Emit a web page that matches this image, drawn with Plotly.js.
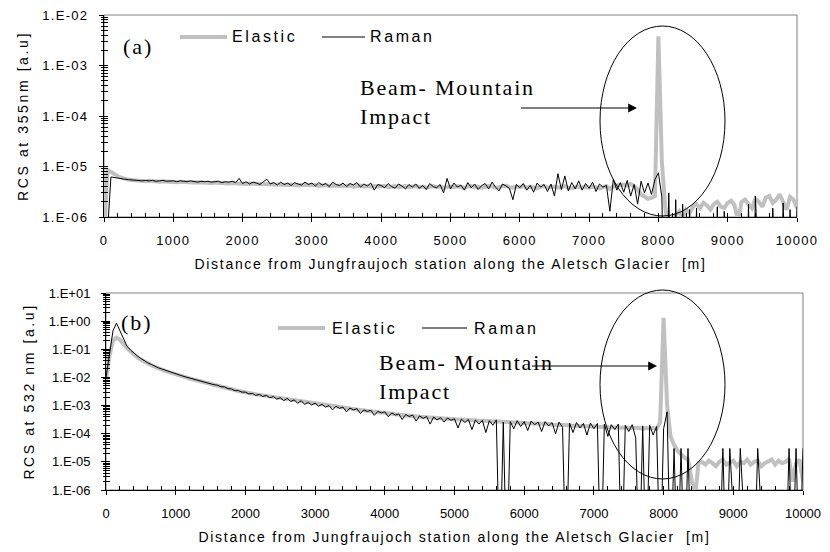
<!DOCTYPE html>
<html>
<head>
<meta charset="utf-8">
<script src="https://cdn.plot.ly/plotly-3.0.1.min.js"></script>
<style>
  html, body { margin: 0; padding: 0; background: #fff; }
  #chart { width: 830px; height: 552px; }
  g.xtick text, g.ytick text { letter-spacing: 1.3px; }
  text.xtitle, text.x2title { letter-spacing: 1.7px; }
  text.ytitle, text.y2title { letter-spacing: 2.6px; }
</style>
</head>
<body>
<div id="chart"></div>
<script>
// ---------------- DATA ----------------
const distance = [
  0,50,100,150,200,250,300,350,400,450,
  500,550,600,650,700,750,800,850,900,950,
  1000,1050,1100,1150,1200,1250,1300,1350,1400,1450,
  1500,1550,1600,1650,1700,1750,1800,1850,1900,1950,
  2000,2050,2100,2150,2200,2250,2300,2350,2400,2450,
  2500,2550,2600,2650,2700,2750,2800,2850,2900,2950,
  3000,3050,3100,3150,3200,3250,3300,3350,3400,3450,
  3500,3550,3600,3650,3700,3750,3800,3850,3900,3950,
  4000,4050,4100,4150,4200,4250,4300,4350,4400,4450,
  4500,4550,4600,4650,4700,4750,4800,4850,4900,4950,
  5000,5050,5100,5150,5200,5250,5300,5350,5400,5450,
  5500,5550,5600,5650,5700,5750,5800,5850,5900,5950,
  6000,6050,6100,6150,6200,6250,6300,6350,6400,6450,
  6500,6550,6600,6650,6700,6750,6800,6850,6900,6950,
  7000,7050,7100,7150,7200,7250,7300,7350,7400,7450,
  7500,7550,7600,7650,7700,7750,7800,7850,7900,7950,
  8000,8050,8100,8150,8200,8250,8300,8350,8400,8450,
  8500,8550,8600,8650,8700,8750,8800,8850,8900,8950,
  9000,9050,9100,9150,9200,9250,9300,9350,9400,9450,
  9500,9550,9600,9650,9700,9750,9800,9850,9900,9950,
  10000
];

// (a) RCS at 355 nm - Elastic
const rcs355Elastic = [
  4e-7,8.5e-6,7.8e-6,7.0e-6,6.4e-6,6.0e-6,5.7e-6,5.5e-6,5.4e-6,5.3e-6,
  5.2e-6,5.2e-6,5.1e-6,5.2e-6,5.1e-6,5.1e-6,5.0e-6,5.1e-6,5.0e-6,5.0e-6,
  5.0e-6,4.9e-6,5.0e-6,4.9e-6,4.9e-6,4.9e-6,4.8e-6,4.9e-6,4.8e-6,4.8e-6,
  4.8e-6,4.7e-6,4.8e-6,4.7e-6,4.7e-6,4.7e-6,4.6e-6,4.7e-6,4.6e-6,4.6e-6,
  4.6e-6,4.5e-6,4.6e-6,4.5e-6,4.4e-6,4.5e-6,4.5e-6,4.4e-6,4.5e-6,4.4e-6,
  4.4e-6,4.3e-6,4.4e-6,4.3e-6,4.4e-6,4.3e-6,4.2e-6,4.3e-6,4.3e-6,4.2e-6,
  4.2e-6,4.3e-6,4.1e-6,4.2e-6,4.3e-6,4.1e-6,4.2e-6,4.1e-6,4.2e-6,4.1e-6,
  4.1e-6,4.2e-6,4.0e-6,4.1e-6,4.2e-6,4.0e-6,4.1e-6,4.0e-6,4.1e-6,4.0e-6,
  4.0e-6,4.1e-6,3.9e-6,4.0e-6,4.1e-6,3.9e-6,4.0e-6,4.1e-6,3.9e-6,4.0e-6,
  4.1e-6,3.9e-6,4.0e-6,3.8e-6,4.0e-6,4.1e-6,3.9e-6,4.0e-6,3.8e-6,3.9e-6,
  4.0e-6,3.9e-6,4.1e-6,3.9e-6,3.8e-6,4.0e-6,4.1e-6,3.9e-6,4.0e-6,3.8e-6,
  3.9e-6,4.1e-6,4.0e-6,3.8e-6,3.9e-6,4.0e-6,4.2e-6,3.9e-6,3.8e-6,4.0e-6,
  3.9e-6,4.1e-6,3.8e-6,4.0e-6,3.9e-6,3.7e-6,4.0e-6,4.1e-6,3.8e-6,3.9e-6,
  4.0e-6,3.8e-6,3.9e-6,4.1e-6,3.8e-6,3.7e-6,3.9e-6,4.0e-6,3.8e-6,3.9e-6,
  3.8e-6,4.0e-6,3.9e-6,3.7e-6,3.9e-6,4.1e-6,3.6e-6,4.0e-6,4.2e-6,4.3e-6,
  4.4e-6,4.2e-6,4.5e-6,4.1e-6,3.5e-6,2.8e-6,2.5e-6,2.3e-6,2.4e-6,2.6e-6,
  3.8e-3,1.2e-5,1.5e-6,5e-7,8e-7,1.1e-6,1.3e-6,9e-7,1.4e-6,1.2e-6,
  1.6e-6,1.8e-6,1.5e-6,1.9e-6,1.7e-6,1.4e-6,1.8e-6,2.0e-6,1.6e-6,1.5e-6,
  1.9e-6,2.1e-6,1.7e-6,8e-7,2.0e-6,2.2e-6,1.8e-6,1.5e-6,2.3e-6,2.0e-6,
  1.6e-6,2.4e-6,2.6e-6,1.9e-6,2.2e-6,2.8e-6,2.0e-6,1.4e-6,2.5e-6,2.2e-6,
  1.5e-6
];

// (a) RCS at 355 nm - Raman
const rcs355Raman = [
  1e-9,5e-7,6.2e-6,6.0e-6,5.8e-6,5.7e-6,5.6e-6,5.5e-6,5.4e-6,5.3e-6,
  5.3e-6,5.2e-6,5.3e-6,5.2e-6,5.3e-6,5.1e-6,5.2e-6,5.3e-6,5.1e-6,5.2e-6,
  5.2e-6,5.0e-6,5.2e-6,5.1e-6,5.0e-6,5.2e-6,5.1e-6,4.9e-6,5.1e-6,5.0e-6,
  5.1e-6,4.9e-6,5.0e-6,5.1e-6,4.8e-6,5.0e-6,4.9e-6,5.1e-6,4.8e-6,5.8e-6,
  4.6e-6,5.0e-6,4.5e-6,4.9e-6,4.7e-6,4.4e-6,5.0e-6,5.6e-6,4.5e-6,4.8e-6,
  4.3e-6,4.9e-6,4.4e-6,4.7e-6,4.2e-6,4.8e-6,4.5e-6,4.3e-6,4.9e-6,4.4e-6,
  4.7e-6,4.1e-6,4.8e-6,4.3e-6,4.6e-6,4.0e-6,4.9e-6,4.4e-6,4.2e-6,4.7e-6,
  4.0e-6,4.6e-6,4.3e-6,4.8e-6,3.9e-6,4.5e-6,4.1e-6,4.7e-6,3.4e-6,4.4e-6,
  4.2e-6,3.8e-6,4.6e-6,4.0e-6,3.7e-6,4.5e-6,4.1e-6,3.6e-6,4.4e-6,3.9e-6,
  4.5e-6,3.7e-6,4.2e-6,3.5e-6,4.6e-6,4.0e-6,3.8e-6,4.4e-6,3.0e-6,5.8e-6,
  3.6e-6,4.7e-6,3.9e-6,4.3e-6,3.4e-6,4.8e-6,3.8e-6,4.5e-6,3.5e-6,4.2e-6,
  4.6e-6,3.6e-6,4.9e-6,3.9e-6,3.3e-6,4.5e-6,4.1e-6,3.7e-6,2.2e-6,4.4e-6,
  3.8e-6,4.6e-6,3.4e-6,4.2e-6,3.1e-6,4.7e-6,3.9e-6,4.4e-6,3.2e-6,4.5e-6,
  2.6e-6,7.2e-6,3.5e-6,6.5e-6,3.3e-6,4.8e-6,3.6e-6,5.2e-6,3.4e-6,4.6e-6,
  3.7e-6,4.9e-6,3.2e-6,4.5e-6,3.9e-6,4.2e-6,1.3e-6,5.6e-6,3.4e-6,4.8e-6,
  3.1e-6,5.3e-6,2.6e-6,4.4e-6,1.8e-6,5.1e-6,3.0e-6,4.7e-6,2.8e-6,5.5e-6,
  7.5e-6,2.5e-6,1e-9,3.0e-6,1e-9,2.2e-6,1e-9,1.8e-6,1e-9,1.4e-6,
  1e-9,1.5e-6,1e-9,1e-9,1e-9,1e-9,1e-9,1.6e-6,1e-9,1.3e-6,
  1e-9,1e-9,1e-9,1e-9,1e-9,1e-9,1.8e-6,1e-9,2.6e-6,1e-9,
  1e-9,1e-9,1e-9,1.5e-6,1e-9,1e-9,1.9e-6,1e-9,1.4e-6,1e-9,
  1.6e-6
];

// (b) RCS at 532 nm - Elastic
const rcs532Elastic = [
  8e-3,0.06,0.2,0.26,0.22,0.15,0.11,0.085,0.065,0.052,
  0.043,0.036,0.030,0.027,0.024,0.021,0.019,0.017,0.0155,0.014,
  0.0128,0.0118,0.0108,0.0100,0.0092,0.0085,0.0079,0.0073,0.0068,0.0064,
  0.0060,0.0056,0.0052,0.0048,0.0045,0.0041,0.0038,0.0035,0.0033,0.0031,
  0.0029,0.0028,0.0026,0.0025,0.0024,0.0023,0.0022,0.0021,0.0020,0.0019,
  0.0018,0.0017,0.00165,0.0016,0.0015,0.00145,0.0014,0.00133,0.00127,0.00122,
  0.00117,0.00112,0.00107,0.00102,0.00098,0.00094,0.0009,0.00087,0.00084,0.00081,
  0.00078,0.00075,0.00072,0.0007,0.00067,0.00065,0.00063,0.00061,0.00059,0.00057,
  0.00055,0.00053,0.00051,0.00049,0.00047,0.00046,0.00045,0.00043,0.00042,0.00041,
  0.0004,0.00039,0.00038,0.00037,0.00036,0.00036,0.00035,0.00034,0.00034,0.00033,
  3.3e-4,3.2e-4,3.2e-4,3.1e-4,3.1e-4,3.0e-4,3.0e-4,2.9e-4,2.9e-4,2.8e-4,
  2.8e-4,2.8e-4,2.7e-4,2.7e-4,2.6e-4,2.6e-4,2.6e-4,2.5e-4,2.5e-4,2.4e-4,
  2.4e-4,2.4e-4,2.3e-4,2.3e-4,2.3e-4,2.2e-4,2.2e-4,2.2e-4,2.1e-4,2.1e-4,
  2.1e-4,2.0e-4,2.0e-4,2.0e-4,1.9e-4,1.9e-4,1.9e-4,1.9e-4,1.8e-4,1.8e-4,
  1.8e-4,1.8e-4,1.7e-4,1.8e-4,1.7e-4,1.7e-4,1.7e-4,1.6e-4,1.7e-4,1.6e-4,
  1.6e-4,1.7e-4,1.6e-4,1.6e-4,1.5e-4,1.6e-4,1.5e-4,1.6e-4,1.5e-4,2.5e-4,
  1.3,1e-3,8e-5,4e-5,2.5e-5,1.8e-5,1.4e-5,1.2e-5,2e-6,5e-7,
  9e-6,1.0e-5,8e-6,1.1e-5,9e-6,7e-6,1.0e-5,1.2e-5,8e-6,9e-6,
  1.1e-5,7e-6,1.0e-5,9e-6,1.2e-5,8e-6,1.0e-5,1.1e-5,7e-6,9e-6,
  1.0e-5,1.2e-5,8e-6,1.1e-5,9e-6,1.0e-5,1.3e-5,2e-6,9e-6,1.2e-5,
  2e-6
];

// (b) RCS at 532 nm - Raman
const rcs532Raman = [
  0.01,0.08,0.45,0.85,0.45,0.22,0.13,0.095,0.072,0.058,
  0.047,0.039,0.033,0.029,0.025,0.022,0.020,0.018,0.016,0.0148,
  0.0133,0.0122,0.0112,0.0103,0.0095,0.0088,0.0080,0.0075,0.0069,0.0065,
  0.0061,0.0055,0.0053,0.0047,0.0046,0.0040,0.0039,0.0034,0.0034,0.0030,
  0.0030,0.0026,0.0027,0.0023,0.0025,0.0021,0.0023,0.0019,0.0021,0.0017,
  0.0019,0.0015,0.0018,0.0014,0.0016,0.0012,0.0015,0.0011,0.0013,0.00105,
  0.00122,0.00095,0.0011,0.00088,0.001,0.0007,0.00095,0.0008,0.00088,0.0006,
  0.00082,0.0007,0.00078,0.00052,0.0007,0.00062,0.00068,0.00045,0.00062,0.00055,
  0.0006,0.0004,0.00055,0.00046,0.0005,0.00032,0.00048,0.00041,0.00046,0.00028,
  0.00043,0.00035,0.00041,0.00022,0.00039,0.00031,0.00037,0.00026,0.00036,0.0003,
  3.4e-4,1.6e-4,3.3e-4,2.5e-4,3.2e-4,1.4e-4,3.1e-4,2.2e-4,3.0e-4,1.1e-4,
  2.9e-4,2.0e-4,3.1e-4,1e-9,2.6e-4,1e-9,2.7e-4,1.5e-4,2.9e-4,1.8e-4,
  2.7e-4,1.3e-4,2.8e-4,2.1e-4,2.6e-4,1.2e-4,2.7e-4,1.9e-4,2.5e-4,1.0e-4,
  2.6e-4,1.7e-4,1e-9,2.4e-4,1.1e-4,2.5e-4,1.6e-4,2.3e-4,0.9e-4,2.4e-4,
  1.5e-4,2.3e-4,1e-9,2.2e-4,0.8e-4,2.1e-4,1.4e-4,2.2e-4,1e-9,2.0e-4,
  1.2e-4,2.1e-4,0.7e-4,1e-9,1.9e-4,1e-9,2.0e-4,0.9e-4,1.8e-4,1e-9,
  1.5e-4,6e-4,1e-9,3e-5,1e-9,3e-5,1e-9,3e-5,1e-9,1e-9,
  1e-9,1e-9,1e-9,1e-9,1e-9,1e-9,1e-9,3e-5,1e-9,3e-5,
  1e-9,1e-9,3e-5,1e-9,1e-9,1e-9,1e-9,3e-5,1e-9,1e-9,
  1e-9,1e-9,1e-9,1e-9,1e-9,1e-9,3e-5,1e-9,3e-5,1e-9,
  3e-5
];

const xTickVals = [0,1000,2000,3000,4000,5000,6000,7000,8000,9000,10000];
const xTickText = ['0','1000','2000','3000','4000','5000','6000','7000','8000','9000','10000'];
const yTickVals355 = [1e-6,1e-5,1e-4,1e-3,1e-2];
const yTickText355 = ['1.E-06','1.E-05','1.E-04','1.E-03','1.E-02'];
const yTickVals532 = [1e-6,1e-5,1e-4,1e-3,1e-2,1e-1,1,10];
const yTickText532 = ['1.E-06','1.E-05','1.E-04','1.E-03','1.E-02','1.E-01','1.E+00','1.E+01'];
const seriesNames = ['Elastic','Raman'];
const xTitle = 'Distance from Jungfraujoch station along the Aletsch Glacier  [m]';
const yTitle355 = 'RCS at 355nm [a.u]';
const yTitle532 = 'RCS at 532 nm [a.u]';

// ---------------- LAYOUT HELPERS ----------------
const W = 830, H = 552;
const px = x => x / W;
const py = y => 1 - y / H;
function logMinor(lo, hi) {
  const v = [];
  for (let e = lo; e < hi; e++) for (let k = 2; k <= 9; k++) v.push(k * Math.pow(10, e));
  return v;
}
const minor355 = logMinor(-6, -2);
const minor532 = logMinor(-6, 1);
const all355 = yTickVals355.concat(minor355);
const all532 = yTickVals532.concat(minor532);
const xAllTicks = [];
for (let d = 0; d <= 10000; d += 200) xAllTicks.push(d);

const SANS = 'Liberation Sans, Arial, sans-serif';
const SERIF = 'Liberation Serif, Times New Roman, serif';
const GRAY = '#c0c0c0';

const traces = [
  {x: distance, y: rcs355Elastic, xaxis: 'x', yaxis: 'y', mode: 'lines', name: seriesNames[0],
   line: {color: GRAY, width: 4}},
  {x: distance, y: rcs355Raman, xaxis: 'x', yaxis: 'y', mode: 'lines', name: seriesNames[1],
   line: {color: '#000', width: 1}},
  {x: distance, y: rcs532Elastic, xaxis: 'x2', yaxis: 'y2', mode: 'lines', name: seriesNames[0],
   line: {color: GRAY, width: 4}},
  {x: distance, y: rcs532Raman, xaxis: 'x2', yaxis: 'y2', mode: 'lines', name: seriesNames[1],
   line: {color: '#000', width: 1}}
];
// empty helper traces so the tick-only overlay axes are always drawn
[['x3','y'],['x','y3'],['x','y5'],['x4','y2'],['x2','y4'],['x2','y6']].forEach(p => {
  traces.push({x: [], y: [], xaxis: p[0], yaxis: p[1], mode: 'lines', showlegend: false, hoverinfo: 'skip'});
});

function xAxis(domain, anchor) {
  return {
    domain: domain, anchor: anchor, range: [0, 10000], tickmode: 'array', tickvals: xTickVals, ticktext: xTickText,
    ticks: 'outside', ticklen: 4, tickcolor: '#000', tickwidth: 1,
    showline: true, linecolor: '#000', linewidth: 1, showgrid: false, zeroline: false,
    tickfont: {family: SANS, size: 13, color: '#000'}, ticklabelstandoff: 7,
    title: {text: xTitle, standoff: 12, font: {family: SANS, size: 14, color: '#000'}}
  };
}
function xOverlay(base, anchor) {
  return {
    overlaying: base, anchor: anchor, side: 'bottom', range: [0, 10000], tickmode: 'array', tickvals: xAllTicks,
    ticks: 'inside', ticklen: 4, tickcolor: '#000', showticklabels: false,
    showline: false, showgrid: false, zeroline: false
  };
}
function yAxis(domain, anchor, range, vals, text, title) {
  return {
    domain: domain, anchor: anchor, type: 'log', range: range,
    tickmode: 'array', tickvals: vals, ticktext: text,
    ticks: 'outside', ticklen: 4, tickcolor: '#000', tickwidth: 1,
    showline: true, linecolor: '#000', linewidth: 1, showgrid: false, zeroline: false,
    tickfont: {family: SANS, size: 13, color: '#000'}, ticklabelstandoff: 8,
    title: {text: title, standoff: 10, font: {family: SANS, size: 14, color: '#000'}}
  };
}
function yOverlay(base, anchor, range, vals, dir, len) {
  return {
    overlaying: base, anchor: anchor, side: 'left', type: 'log', range: range,
    tickmode: 'array', tickvals: vals, ticks: dir, ticklen: len, tickcolor: '#000',
    showticklabels: false, showline: false, showgrid: false, zeroline: false
  };
}

const frame = (xr, yr) => ({type: 'rect', xref: xr + ' domain', yref: yr + ' domain', x0: 0, x1: 1, y0: 0, y1: 1,
  line: {color: '#808080', width: 1}, layer: 'below'});
const hline = (x0, x1, y, color, width) => ({type: 'line', xref: 'paper', yref: 'paper',
  x0: px(x0), x1: px(x1), y0: py(y), y1: py(y), line: {color: color, width: width}});
const ellipse = (x0, x1, y0, y1) => ({type: 'circle', xref: 'paper', yref: 'paper',
  x0: px(x0), x1: px(x1), y0: py(y1), y1: py(y0), line: {color: '#000', width: 1}});

const label = (text, x, y, fam, size, sp) => ({
  text: '<span style="letter-spacing:' + sp + 'px">' + text + '</span>',
  xref: 'paper', yref: 'paper', x: px(x), y: py(y), xanchor: 'left', yanchor: 'middle',
  align: 'left', showarrow: false, font: {family: fam, size: size, color: '#000'}
});
const arrow = (xTip, yTip, len) => ({
  text: ' ', xref: 'paper', yref: 'paper', x: px(xTip), y: py(yTip), ax: -len, ay: 0,
  axref: 'pixel', ayref: 'pixel', showarrow: true, arrowhead: 2, arrowsize: 1.6, arrowwidth: 1.1,
  arrowcolor: '#000', standoff: 0, startstandoff: 0, font: {size: 4}
});

const layout = {
  width: W, height: H, margin: {l: 0, r: 0, t: 0, b: 0},
  paper_bgcolor: '#fff', plot_bgcolor: 'rgba(0,0,0,0)', showlegend: false,
  font: {family: SANS, size: 14, color: '#000'},
  xaxis: xAxis([px(104), px(797)], 'y'),
  yaxis: yAxis([py(217), py(15)], 'x', [-6, -2], yTickVals355, yTickText355, yTitle355),
  xaxis2: xAxis([px(106), px(803)], 'y2'),
  yaxis2: yAxis([py(490), py(293)], 'x2', [-6, 1], yTickVals532, yTickText532, yTitle532),
  xaxis3: xOverlay('x', 'y'),
  xaxis4: xOverlay('x2', 'y2'),
  yaxis3: yOverlay('y', 'x', [-6, -2], all355, 'inside', 4),
  yaxis5: yOverlay('y', 'x', [-6, -2], minor355, 'outside', 2),
  yaxis4: yOverlay('y2', 'x2', [-6, 1], all532, 'inside', 4),
  yaxis6: yOverlay('y2', 'x2', [-6, 1], minor532, 'outside', 2),
  shapes: [
    frame('x', 'y'), frame('x2', 'y2'),
    hline(180, 227, 37, GRAY, 4), hline(322, 365, 37, '#000', 1),
    hline(278, 325, 328, GRAY, 4), hline(422, 467, 328, '#000', 1),
    ellipse(600, 725, 26, 216), ellipse(600, 725, 290, 479)
  ],
  annotations: [
    label(seriesNames[0], 230, 37, SANS, 16, 2.6), label(seriesNames[1], 368, 37, SANS, 16, 2.6),
    label(seriesNames[0], 330, 328, SANS, 16, 2.6), label(seriesNames[1], 472, 328, SANS, 16, 2.6),
    label('(a)', 121, 46, SERIF, 22, 2), label('(b)', 119, 322, SERIF, 22, 2),
    label('Beam- Mountain<br>Impact', 358, 102, SERIF, 22, 1.8),
    label('Beam- Mountain<br>Impact', 377, 377, SERIF, 22, 1.8),
    arrow(637, 108, 118), arrow(657, 366, 127)
  ]
};

Plotly.newPlot('chart', traces, layout, {staticPlot: true, displayModeBar: false});
</script>
</body>
</html>
